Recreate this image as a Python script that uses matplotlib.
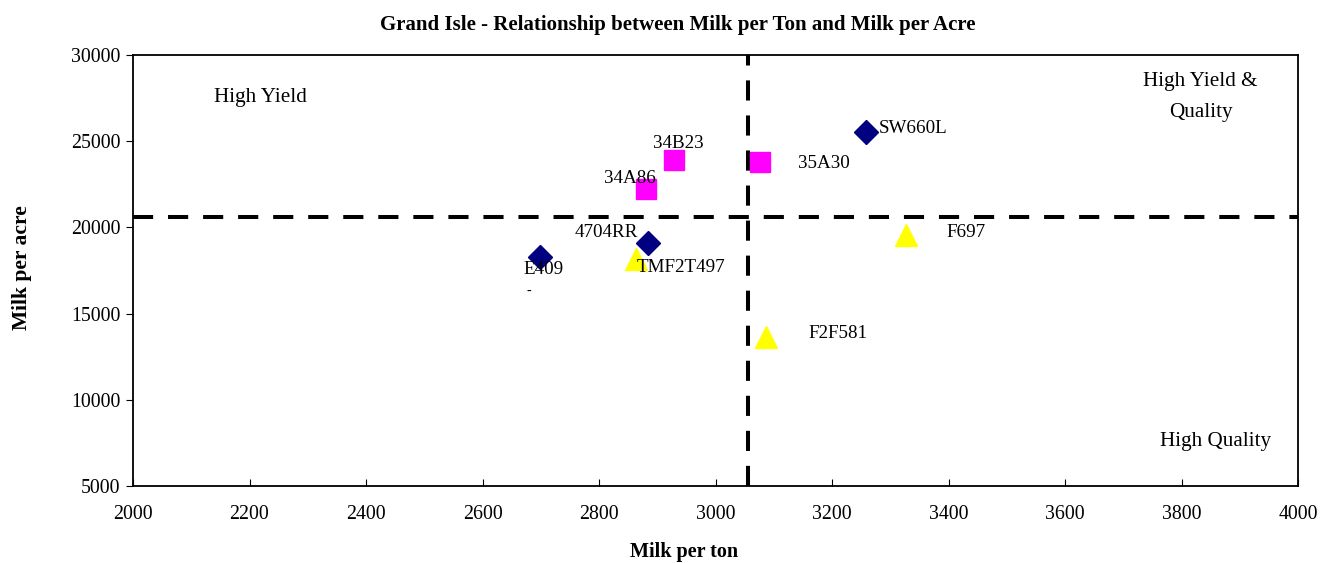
import matplotlib
matplotlib.use("Agg")
import matplotlib.pyplot as plt

plt.rcParams['font.family'] = ['Liberation Serif', 'DejaVu Serif']

# Data
series_diamond_names = ["SW660L", "4704RR", "E409"]
series_diamond_x = [3258, 2884, 2699]
series_diamond_y = [25520, 19070, 18310]

series_square_names = ["35A30", "34B23", "34A86"]
series_square_x = [3076, 2929, 2881]
series_square_y = [23780, 23900, 22210]

series_triangle_names = ["F697", "F2F581", "TMF2T497"]
series_triangle_x = [3327, 3087, 2864]
series_triangle_y = [19540, 13660, 18140]

avg_milk_per_ton = 3056
avg_milk_per_acre = 20580

x_ticks = [2000, 2200, 2400, 2600, 2800, 3000, 3200, 3400, 3600, 3800, 4000]
y_ticks = [5000, 10000, 15000, 20000, 25000, 30000]

label_offsets = {
    "SW660L": (13, 4), "4704RR": (-73, 11), "E409": (-17, -13),
    "35A30": (38, -1), "34B23": (-21, 17), "34A86": (-42, 11),
    "F697": (40, 3), "F2F581": (42, 3), "TMF2T497": (0, -8),
}

W, H = 1321, 563
fig = plt.figure(figsize=(W/100, H/100), dpi=100)
ax = fig.add_axes([133/W, 1-486/H, (1298-133)/W, (486-55)/H])

ax.axvline(avg_milk_per_ton, color='black', lw=2.9, linestyle=(0, (5, 3.7)), zorder=1)
ax.axhline(avg_milk_per_acre, color='black', lw=2.9, linestyle=(0, (5, 3.7)), zorder=1)

ax.plot(series_diamond_x, series_diamond_y, 'D', color='#000080', ms=12.5, mec='#000080', zorder=3)
ax.plot(series_square_x, series_square_y, 's', color='#FF00FF', ms=14, mec='#FF00FF', zorder=3)
ax.plot(series_triangle_x, series_triangle_y, '^', color='#FFFF00', ms=15.5, mec='#FFFF00', zorder=3)

for names, xs, ys in [(series_diamond_names, series_diamond_x, series_diamond_y),
                      (series_square_names, series_square_x, series_square_y),
                      (series_triangle_names, series_triangle_x, series_triangle_y)]:
    for n, x, y in zip(names, xs, ys):
        ax.annotate(n, (x, y), xytext=label_offsets[n], textcoords='offset pixels',
                    ha='left', va='center', fontsize=13.7, zorder=4)

# stray dash under E409 label
ax.annotate("-", (series_diamond_x[2], series_diamond_y[2]), xytext=(-14, -35),
            textcoords='offset pixels', ha='left', va='center', fontsize=10)

ax.text(2139, 27560, "High Yield", ha='left', va='center', fontsize=15.2)
ax.text(3833, 27560, "High Yield &\nQuality", ha='center', va='center', fontsize=15.2,
        linespacing=1.8)
ax.text(3859, 7560, "High Quality", ha='center', va='center', fontsize=15.2)

ax.set_xlim(2000, 4000)
ax.set_ylim(5000, 30000)
ax.set_xticks(x_ticks)
ax.set_yticks(y_ticks)
ax.tick_params(axis='x', direction='in', length=5, labelsize=14.3, pad=14)
ax.tick_params(axis='y', direction='out', length=5, labelsize=14.3, pad=4)
for s in ax.spines.values():
    s.set_linewidth(1.3)

fig.text(678/W, 1-25/H, "Grand Isle - Relationship between Milk per Ton and Milk per Acre",
         ha='center', va='center', fontsize=15, fontweight='bold')
fig.text(684/W, 1-552/H, "Milk per ton", ha='center', va='center',
         fontsize=14.5, fontweight='bold')
fig.text(22/W, 1-268/H, "Milk per acre", ha='center', va='center', rotation=90,
         fontsize=15.5, fontweight='bold')

fig.savefig("out.png", dpi=100)
